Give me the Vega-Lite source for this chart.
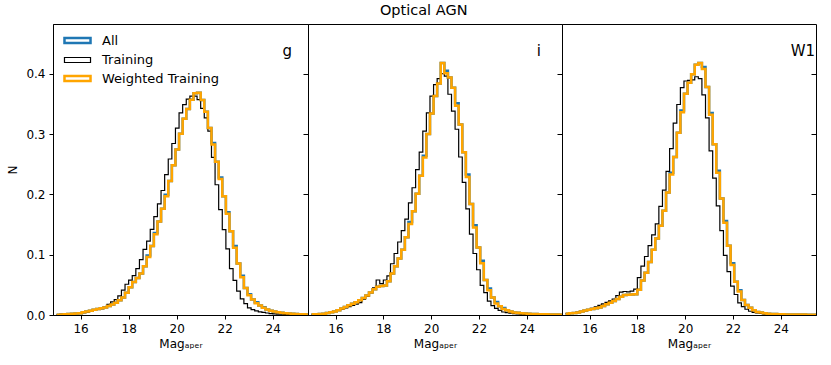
{
 "$schema": "https://vega.github.io/schema/vega-lite/v6.json",
 "padding": {"left": 6, "top": 3, "right": 10, "bottom": 4},
 "bounds": "flush",
 "title": {"text": "Optical AGN", "fontSize": 14.5, "font": "DejaVu Sans", "fontWeight": "normal", "anchor": "middle", "offset": 5, "dx": 12, "color": "#000"},
 "spacing": 0,
 "datasets": {
  "lab": [
   {"p": "g", "x": 24.41, "y": 0.43, "label": "g"},
   {"p": "i", "x": 24.41, "y": 0.43, "label": "i"},
   {"p": "W1", "x": 24.41, "y": 0.43, "label": "W1"}
  ],
  "h": [
   {"p":"g","x":15.00,"a":0.0006,"t":0.0006,"w":0.0006},
   {"p":"g","x":15.15,"a":0.0009,"t":0.0009,"w":0.0009},
   {"p":"g","x":15.30,"a":0.0012,"t":0.0012,"w":0.0012},
   {"p":"g","x":15.45,"a":0.0016,"t":0.0016,"w":0.0016},
   {"p":"g","x":15.60,"a":0.0020,"t":0.0020,"w":0.0020},
   {"p":"g","x":15.75,"a":0.0025,"t":0.0025,"w":0.0025},
   {"p":"g","x":15.90,"a":0.0029,"t":0.0029,"w":0.0029},
   {"p":"g","x":16.05,"a":0.0044,"t":0.0040,"w":0.0044},
   {"p":"g","x":16.20,"a":0.0060,"t":0.0052,"w":0.0060},
   {"p":"g","x":16.35,"a":0.0072,"t":0.0064,"w":0.0072},
   {"p":"g","x":16.50,"a":0.0086,"t":0.0077,"w":0.0086},
   {"p":"g","x":16.65,"a":0.0098,"t":0.0092,"w":0.0098},
   {"p":"g","x":16.80,"a":0.0110,"t":0.0107,"w":0.0110},
   {"p":"g","x":16.95,"a":0.0124,"t":0.0128,"w":0.0124},
   {"p":"g","x":17.10,"a":0.0149,"t":0.0178,"w":0.0149},
   {"p":"g","x":17.25,"a":0.0174,"t":0.0218,"w":0.0174},
   {"p":"g","x":17.40,"a":0.0204,"t":0.0254,"w":0.0204},
   {"p":"g","x":17.55,"a":0.0244,"t":0.0316,"w":0.0244},
   {"p":"g","x":17.70,"a":0.0290,"t":0.0414,"w":0.0290},
   {"p":"g","x":17.85,"a":0.0370,"t":0.0510,"w":0.0370},
   {"p":"g","x":18.00,"a":0.0460,"t":0.0578,"w":0.0460},
   {"p":"g","x":18.15,"a":0.0548,"t":0.0653,"w":0.0548},
   {"p":"g","x":18.30,"a":0.0613,"t":0.0768,"w":0.0613},
   {"p":"g","x":18.45,"a":0.0690,"t":0.0918,"w":0.0690},
   {"p":"g","x":18.60,"a":0.0807,"t":0.1087,"w":0.0807},
   {"p":"g","x":18.75,"a":0.0985,"t":0.1224,"w":0.0960},
   {"p":"g","x":18.90,"a":0.1143,"t":0.1420,"w":0.1143},
   {"p":"g","x":19.05,"a":0.1360,"t":0.1631,"w":0.1337},
   {"p":"g","x":19.20,"a":0.1549,"t":0.1843,"w":0.1549},
   {"p":"g","x":19.35,"a":0.1760,"t":0.2064,"w":0.1760},
   {"p":"g","x":19.50,"a":0.1995,"t":0.2328,"w":0.1970},
   {"p":"g","x":19.65,"a":0.2220,"t":0.2587,"w":0.2220},
   {"p":"g","x":19.80,"a":0.2482,"t":0.2844,"w":0.2482},
   {"p":"g","x":19.95,"a":0.2743,"t":0.3099,"w":0.2743},
   {"p":"g","x":20.10,"a":0.3005,"t":0.3351,"w":0.3005},
   {"p":"g","x":20.25,"a":0.3255,"t":0.3488,"w":0.3255},
   {"p":"g","x":20.40,"a":0.3415,"t":0.3580,"w":0.3415},
   {"p":"g","x":20.55,"a":0.3570,"t":0.3630,"w":0.3570},
   {"p":"g","x":20.70,"a":0.3675,"t":0.3630,"w":0.3675},
   {"p":"g","x":20.85,"a":0.3685,"t":0.3570,"w":0.3685},
   {"p":"g","x":21.00,"a":0.3565,"t":0.3425,"w":0.3565},
   {"p":"g","x":21.15,"a":0.3370,"t":0.3270,"w":0.3370},
   {"p":"g","x":21.30,"a":0.3100,"t":0.3050,"w":0.3100},
   {"p":"g","x":21.45,"a":0.2850,"t":0.2614,"w":0.2825},
   {"p":"g","x":21.60,"a":0.2540,"t":0.2160,"w":0.2540},
   {"p":"g","x":21.75,"a":0.2280,"t":0.1748,"w":0.2253},
   {"p":"g","x":21.90,"a":0.1970,"t":0.1415,"w":0.1970},
   {"p":"g","x":22.05,"a":0.1705,"t":0.1095,"w":0.1680},
   {"p":"g","x":22.20,"a":0.1390,"t":0.0768,"w":0.1390},
   {"p":"g","x":22.35,"a":0.1145,"t":0.0575,"w":0.1117},
   {"p":"g","x":22.50,"a":0.0855,"t":0.0395,"w":0.0855},
   {"p":"g","x":22.65,"a":0.0650,"t":0.0269,"w":0.0627},
   {"p":"g","x":22.80,"a":0.0448,"t":0.0189,"w":0.0448},
   {"p":"g","x":22.95,"a":0.0345,"t":0.0117,"w":0.0326},
   {"p":"g","x":23.10,"a":0.0256,"t":0.0089,"w":0.0256},
   {"p":"g","x":23.25,"a":0.0210,"t":0.0067,"w":0.0194},
   {"p":"g","x":23.40,"a":0.0156,"t":0.0052,"w":0.0156},
   {"p":"g","x":23.55,"a":0.0130,"t":0.0043,"w":0.0119},
   {"p":"g","x":23.70,"a":0.0090,"t":0.0033,"w":0.0090},
   {"p":"g","x":23.85,"a":0.0070,"t":0.0023,"w":0.0070},
   {"p":"g","x":24.00,"a":0.0056,"t":0.0019,"w":0.0056},
   {"p":"g","x":24.15,"a":0.0047,"t":0.0016,"w":0.0047},
   {"p":"g","x":24.30,"a":0.0038,"t":0.0013,"w":0.0038},
   {"p":"g","x":24.45,"a":0.0029,"t":0.0010,"w":0.0029},
   {"p":"g","x":24.60,"a":0.0024,"t":0.0009,"w":0.0024},
   {"p":"g","x":24.75,"a":0.0020,"t":0.0008,"w":0.0020},
   {"p":"g","x":24.90,"a":0.0015,"t":0.0007,"w":0.0015},
   {"p":"g","x":25.05,"a":0.0013,"t":0.0006,"w":0.0013},
   {"p":"g","x":25.20,"a":0.0011,"t":0.0005,"w":0.0011},
   {"p":"g","x":25.35,"a":0.0009,"t":0.0004,"w":0.0009},
   {"p":"g","x":25.50,"a":0.0009,"t":0.0004,"w":0.0009},

   {"p":"i","x":15.00,"a":0.0012,"t":0.0012,"w":0.0012},
   {"p":"i","x":15.15,"a":0.0014,"t":0.0014,"w":0.0014},
   {"p":"i","x":15.30,"a":0.0018,"t":0.0018,"w":0.0018},
   {"p":"i","x":15.45,"a":0.0022,"t":0.0022,"w":0.0022},
   {"p":"i","x":15.60,"a":0.0034,"t":0.0034,"w":0.0034},
   {"p":"i","x":15.75,"a":0.0046,"t":0.0046,"w":0.0046},
   {"p":"i","x":15.90,"a":0.0058,"t":0.0058,"w":0.0058},
   {"p":"i","x":16.05,"a":0.0078,"t":0.0078,"w":0.0078},
   {"p":"i","x":16.20,"a":0.0106,"t":0.0098,"w":0.0106},
   {"p":"i","x":16.35,"a":0.0133,"t":0.0118,"w":0.0133},
   {"p":"i","x":16.50,"a":0.0160,"t":0.0138,"w":0.0160},
   {"p":"i","x":16.65,"a":0.0186,"t":0.0160,"w":0.0186},
   {"p":"i","x":16.80,"a":0.0213,"t":0.0178,"w":0.0213},
   {"p":"i","x":16.95,"a":0.0245,"t":0.0205,"w":0.0245},
   {"p":"i","x":17.10,"a":0.0283,"t":0.0262,"w":0.0283},
   {"p":"i","x":17.25,"a":0.0325,"t":0.0312,"w":0.0325},
   {"p":"i","x":17.40,"a":0.0373,"t":0.0370,"w":0.0373},
   {"p":"i","x":17.55,"a":0.0425,"t":0.0450,"w":0.0425},
   {"p":"i","x":17.70,"a":0.0470,"t":0.0580,"w":0.0470},
   {"p":"i","x":17.85,"a":0.0480,"t":0.0520,"w":0.0480},
   {"p":"i","x":18.00,"a":0.0490,"t":0.0580,"w":0.0490},
   {"p":"i","x":18.15,"a":0.0560,"t":0.0650,"w":0.0560},
   {"p":"i","x":18.30,"a":0.0690,"t":0.0850,"w":0.0690},
   {"p":"i","x":18.45,"a":0.0810,"t":0.1020,"w":0.0810},
   {"p":"i","x":18.60,"a":0.0935,"t":0.1210,"w":0.0935},
   {"p":"i","x":18.75,"a":0.1080,"t":0.1400,"w":0.1080},
   {"p":"i","x":18.90,"a":0.1290,"t":0.1590,"w":0.1290},
   {"p":"i","x":19.05,"a":0.1540,"t":0.1860,"w":0.1510},
   {"p":"i","x":19.20,"a":0.1720,"t":0.2110,"w":0.1720},
   {"p":"i","x":19.35,"a":0.2010,"t":0.2410,"w":0.2010},
   {"p":"i","x":19.50,"a":0.2310,"t":0.2700,"w":0.2310},
   {"p":"i","x":19.65,"a":0.2640,"t":0.3050,"w":0.2610},
   {"p":"i","x":19.80,"a":0.3000,"t":0.3350,"w":0.3000},
   {"p":"i","x":19.95,"a":0.3340,"t":0.3630,"w":0.3340},
   {"p":"i","x":20.10,"a":0.3630,"t":0.3820,"w":0.3630},
   {"p":"i","x":20.25,"a":0.3840,"t":0.3920,"w":0.3840},
   {"p":"i","x":20.40,"a":0.4180,"t":0.4000,"w":0.4180},
   {"p":"i","x":20.55,"a":0.4050,"t":0.3960,"w":0.4010},
   {"p":"i","x":20.70,"a":0.3940,"t":0.3660,"w":0.3940},
   {"p":"i","x":20.85,"a":0.3770,"t":0.3380,"w":0.3770},
   {"p":"i","x":21.00,"a":0.3510,"t":0.3080,"w":0.3470},
   {"p":"i","x":21.15,"a":0.3160,"t":0.2620,"w":0.3160},
   {"p":"i","x":21.30,"a":0.2700,"t":0.2200,"w":0.2700},
   {"p":"i","x":21.45,"a":0.2330,"t":0.1760,"w":0.2290},
   {"p":"i","x":21.60,"a":0.1840,"t":0.1340,"w":0.1840},
   {"p":"i","x":21.75,"a":0.1490,"t":0.1020,"w":0.1450},
   {"p":"i","x":21.90,"a":0.1120,"t":0.0750,"w":0.1120},
   {"p":"i","x":22.05,"a":0.0900,"t":0.0490,"w":0.0860},
   {"p":"i","x":22.20,"a":0.0580,"t":0.0370,"w":0.0580},
   {"p":"i","x":22.35,"a":0.0440,"t":0.0230,"w":0.0410},
   {"p":"i","x":22.50,"a":0.0290,"t":0.0155,"w":0.0290},
   {"p":"i","x":22.65,"a":0.0215,"t":0.0110,"w":0.0190},
   {"p":"i","x":22.80,"a":0.0145,"t":0.0078,"w":0.0145},
   {"p":"i","x":22.95,"a":0.0115,"t":0.0050,"w":0.0098},
   {"p":"i","x":23.10,"a":0.0080,"t":0.0040,"w":0.0080},
   {"p":"i","x":23.25,"a":0.0060,"t":0.0031,"w":0.0060},
   {"p":"i","x":23.40,"a":0.0042,"t":0.0022,"w":0.0042},
   {"p":"i","x":23.55,"a":0.0036,"t":0.0018,"w":0.0036},
   {"p":"i","x":23.70,"a":0.0030,"t":0.0015,"w":0.0030},
   {"p":"i","x":23.85,"a":0.0023,"t":0.0012,"w":0.0023},
   {"p":"i","x":24.00,"a":0.0019,"t":0.0010,"w":0.0019},
   {"p":"i","x":24.15,"a":0.0017,"t":0.0009,"w":0.0017},
   {"p":"i","x":24.30,"a":0.0015,"t":0.0008,"w":0.0015},
   {"p":"i","x":24.45,"a":0.0014,"t":0.0007,"w":0.0014},
   {"p":"i","x":24.60,"a":0.0012,"t":0.0006,"w":0.0012},
   {"p":"i","x":24.75,"a":0.0011,"t":0.0005,"w":0.0011},
   {"p":"i","x":24.90,"a":0.0010,"t":0.0005,"w":0.0010},
   {"p":"i","x":25.05,"a":0.0008,"t":0.0004,"w":0.0008},
   {"p":"i","x":25.20,"a":0.0007,"t":0.0004,"w":0.0007},
   {"p":"i","x":25.35,"a":0.0006,"t":0.0003,"w":0.0006},
   {"p":"i","x":25.50,"a":0.0006,"t":0.0003,"w":0.0006},

   {"p":"W1","x":15.00,"a":0.0022,"t":0.0022,"w":0.0022},
   {"p":"W1","x":15.15,"a":0.0028,"t":0.0028,"w":0.0028},
   {"p":"W1","x":15.30,"a":0.0035,"t":0.0035,"w":0.0035},
   {"p":"W1","x":15.45,"a":0.0042,"t":0.0042,"w":0.0042},
   {"p":"W1","x":15.60,"a":0.0058,"t":0.0058,"w":0.0058},
   {"p":"W1","x":15.75,"a":0.0073,"t":0.0073,"w":0.0073},
   {"p":"W1","x":15.90,"a":0.0086,"t":0.0090,"w":0.0086},
   {"p":"W1","x":16.05,"a":0.0099,"t":0.0110,"w":0.0099},
   {"p":"W1","x":16.20,"a":0.0110,"t":0.0135,"w":0.0110},
   {"p":"W1","x":16.35,"a":0.0123,"t":0.0160,"w":0.0123},
   {"p":"W1","x":16.50,"a":0.0151,"t":0.0185,"w":0.0151},
   {"p":"W1","x":16.65,"a":0.0177,"t":0.0210,"w":0.0177},
   {"p":"W1","x":16.80,"a":0.0202,"t":0.0235,"w":0.0202},
   {"p":"W1","x":16.95,"a":0.0232,"t":0.0265,"w":0.0232},
   {"p":"W1","x":17.10,"a":0.0265,"t":0.0320,"w":0.0265},
   {"p":"W1","x":17.25,"a":0.0302,"t":0.0380,"w":0.0302},
   {"p":"W1","x":17.40,"a":0.0330,"t":0.0390,"w":0.0330},
   {"p":"W1","x":17.55,"a":0.0335,"t":0.0385,"w":0.0335},
   {"p":"W1","x":17.70,"a":0.0338,"t":0.0395,"w":0.0338},
   {"p":"W1","x":17.85,"a":0.0342,"t":0.0430,"w":0.0342},
   {"p":"W1","x":18.00,"a":0.0420,"t":0.0620,"w":0.0420},
   {"p":"W1","x":18.15,"a":0.0570,"t":0.0810,"w":0.0570},
   {"p":"W1","x":18.30,"a":0.0700,"t":0.0970,"w":0.0700},
   {"p":"W1","x":18.45,"a":0.0880,"t":0.1150,"w":0.0880},
   {"p":"W1","x":18.60,"a":0.1080,"t":0.1330,"w":0.1080},
   {"p":"W1","x":18.75,"a":0.1270,"t":0.1510,"w":0.1270},
   {"p":"W1","x":18.90,"a":0.1480,"t":0.1800,"w":0.1480},
   {"p":"W1","x":19.05,"a":0.1730,"t":0.2070,"w":0.1730},
   {"p":"W1","x":19.20,"a":0.2030,"t":0.2380,"w":0.2030},
   {"p":"W1","x":19.35,"a":0.2360,"t":0.2760,"w":0.2330},
   {"p":"W1","x":19.50,"a":0.2620,"t":0.3180,"w":0.2620},
   {"p":"W1","x":19.65,"a":0.3020,"t":0.3490,"w":0.3020},
   {"p":"W1","x":19.80,"a":0.3390,"t":0.3770,"w":0.3360},
   {"p":"W1","x":19.95,"a":0.3670,"t":0.3880,"w":0.3670},
   {"p":"W1","x":20.10,"a":0.3850,"t":0.3890,"w":0.3850},
   {"p":"W1","x":20.25,"a":0.3990,"t":0.3900,"w":0.3990},
   {"p":"W1","x":20.40,"a":0.4150,"t":0.3950,"w":0.4150},
   {"p":"W1","x":20.55,"a":0.4180,"t":0.3920,"w":0.4180},
   {"p":"W1","x":20.70,"a":0.4110,"t":0.3650,"w":0.4080},
   {"p":"W1","x":20.85,"a":0.3780,"t":0.3270,"w":0.3780},
   {"p":"W1","x":21.00,"a":0.3350,"t":0.2720,"w":0.3320},
   {"p":"W1","x":21.15,"a":0.2830,"t":0.2270,"w":0.2830},
   {"p":"W1","x":21.30,"a":0.2390,"t":0.1810,"w":0.2360},
   {"p":"W1","x":21.45,"a":0.1930,"t":0.1400,"w":0.1930},
   {"p":"W1","x":21.60,"a":0.1560,"t":0.0990,"w":0.1530},
   {"p":"W1","x":21.75,"a":0.1150,"t":0.0720,"w":0.1150},
   {"p":"W1","x":21.90,"a":0.0860,"t":0.0480,"w":0.0830},
   {"p":"W1","x":22.05,"a":0.0550,"t":0.0340,"w":0.0550},
   {"p":"W1","x":22.20,"a":0.0410,"t":0.0200,"w":0.0390},
   {"p":"W1","x":22.35,"a":0.0250,"t":0.0140,"w":0.0250},
   {"p":"W1","x":22.50,"a":0.0165,"t":0.0095,"w":0.0165},
   {"p":"W1","x":22.65,"a":0.0120,"t":0.0062,"w":0.0120},
   {"p":"W1","x":22.80,"a":0.0080,"t":0.0045,"w":0.0080},
   {"p":"W1","x":22.95,"a":0.0050,"t":0.0033,"w":0.0050},
   {"p":"W1","x":23.10,"a":0.0040,"t":0.0025,"w":0.0040},
   {"p":"W1","x":23.25,"a":0.0030,"t":0.0019,"w":0.0030},
   {"p":"W1","x":23.40,"a":0.0022,"t":0.0015,"w":0.0022},
   {"p":"W1","x":23.55,"a":0.0018,"t":0.0012,"w":0.0018},
   {"p":"W1","x":23.70,"a":0.0015,"t":0.0010,"w":0.0015},
   {"p":"W1","x":23.85,"a":0.0012,"t":0.0009,"w":0.0012},
   {"p":"W1","x":24.00,"a":0.0011,"t":0.0008,"w":0.0011},
   {"p":"W1","x":24.15,"a":0.0010,"t":0.0007,"w":0.0010},
   {"p":"W1","x":24.30,"a":0.0009,"t":0.0006,"w":0.0009},
   {"p":"W1","x":24.45,"a":0.0008,"t":0.0006,"w":0.0008},
   {"p":"W1","x":24.60,"a":0.0008,"t":0.0005,"w":0.0008},
   {"p":"W1","x":24.75,"a":0.0007,"t":0.0005,"w":0.0007},
   {"p":"W1","x":24.90,"a":0.0007,"t":0.0004,"w":0.0007},
   {"p":"W1","x":25.05,"a":0.0006,"t":0.0004,"w":0.0006},
   {"p":"W1","x":25.20,"a":0.0006,"t":0.0003,"w":0.0006},
   {"p":"W1","x":25.35,"a":0.0005,"t":0.0003,"w":0.0005},
   {"p":"W1","x":25.50,"a":0.0005,"t":0.0003,"w":0.0005}
  ]
 },
 "hconcat": [
  {
   "width": 255, "height": 291,
   "layer": [
    {
     "data": {"name": "h"},
     "transform": [{"filter": "datum.p == 'g'"}, {"fold": ["a", "t", "w"], "as": ["s", "v"]}],
     "mark": {"type": "line", "interpolate": "step-after", "clip": true},
     "encoding": {
      "x": {"field": "x", "type": "quantitative", "scale": {"domain": [14.85, 25.47], "nice": false, "zero": false}, "axis": {"values": [16, 18, 20, 22, 24], "format": "d", "title": "Magₐₚₑᵣ"}},
      "y": {"field": "v", "type": "quantitative", "scale": {"domain": [0, 0.4825], "nice": false}, "axis": {"values": [0, 0.1, 0.2, 0.3, 0.4], "format": ".1f", "title": "N", "titlePadding": 6}},
      "color": {"field": "s", "type": "nominal", "scale": {"domain": ["a", "t", "w"], "range": ["#1f77b4", "#000000", "#ffa500"]},
       "legend": {"orient": "none", "legendX": 16, "legendY": 8, "padding": 0, "title": null, "labelExpr": "datum.value == 'a' ? 'All' : datum.value == 't' ? 'Training' : 'Weighted Training'", "symbolType": "M-1.86,-0.36H1.86V0.36H-1.86Z", "symbolSize": 196, "symbolFillColor": "transparent", "labelFontSize": 13, "labelOffset": 16, "rowPadding": 3}},
      "strokeWidth": {"field": "s", "type": "nominal", "scale": {"type": "ordinal", "domain": ["a", "t", "w"], "range": [2.5, 1.2, 2.5]},
       "legend": {"orient": "none", "legendX": 16, "legendY": 8, "padding": 0, "title": null, "labelExpr": "datum.value == 'a' ? 'All' : datum.value == 't' ? 'Training' : 'Weighted Training'", "symbolType": "M-1.86,-0.36H1.86V0.36H-1.86Z", "symbolSize": 196, "symbolFillColor": "transparent", "labelFontSize": 13, "labelOffset": 16, "rowPadding": 3}}
     }
    },
    {
     "data": {"name": "lab"},
     "transform": [{"filter": "datum.p == 'g'"}],
     "mark": {"type": "text", "align": "left", "baseline": "alphabetic", "fontSize": 15, "color": "#000"},
     "encoding": {
      "x": {"field": "x", "type": "quantitative"},
      "y": {"field": "y", "type": "quantitative", "axis": {"orient": "right", "values": [0, 0.1, 0.2, 0.3, 0.4], "labels": false, "title": null, "domain": false, "tickSize": -5}},
      "text": {"field": "label"}
     }
    }
   ],
   "resolve": {"axis": {"y": "independent"}}
  },
  {
   "width": 254, "height": 291,
   "layer": [
    {
     "data": {"name": "h"},
     "transform": [{"filter": "datum.p == 'i'"}, {"fold": ["a", "t", "w"], "as": ["s", "v"]}],
     "mark": {"type": "line", "interpolate": "step-after", "clip": true},
     "encoding": {
      "x": {"field": "x", "type": "quantitative", "scale": {"domain": [14.85, 25.47], "nice": false, "zero": false}, "axis": {"values": [16, 18, 20, 22, 24], "format": "d", "title": "Magₐₚₑᵣ"}},
      "y": {"field": "v", "type": "quantitative", "scale": {"domain": [0, 0.4825], "nice": false}, "axis": null},
      "color": {"field": "s", "type": "nominal", "scale": {"domain": ["a", "t", "w"], "range": ["#1f77b4", "#000000", "#ffa500"]}, "legend": null},
      "strokeWidth": {"field": "s", "type": "nominal", "scale": {"type": "ordinal", "domain": ["a", "t", "w"], "range": [2.5, 1.2, 2.5]}, "legend": null}
     }
    },
    {
     "data": {"name": "lab"},
     "transform": [{"filter": "datum.p == 'i'"}],
     "mark": {"type": "text", "align": "left", "baseline": "alphabetic", "fontSize": 15, "color": "#000"},
     "encoding": {
      "x": {"field": "x", "type": "quantitative"},
      "y": {"field": "y", "type": "quantitative", "axis": {"orient": "right", "values": [0, 0.1, 0.2, 0.3, 0.4], "labels": false, "title": null, "domain": false, "tickSize": -5}},
      "text": {"field": "label"}
     }
    }
   ],
   "resolve": {"axis": {"y": "independent"}}
  },
  {
   "width": 254, "height": 291,
   "layer": [
    {
     "data": {"name": "h"},
     "transform": [{"filter": "datum.p == 'W1'"}, {"fold": ["a", "t", "w"], "as": ["s", "v"]}],
     "mark": {"type": "line", "interpolate": "step-after", "clip": true},
     "encoding": {
      "x": {"field": "x", "type": "quantitative", "scale": {"domain": [14.85, 25.47], "nice": false, "zero": false}, "axis": {"values": [16, 18, 20, 22, 24], "format": "d", "title": "Magₐₚₑᵣ"}},
      "y": {"field": "v", "type": "quantitative", "scale": {"domain": [0, 0.4825], "nice": false}, "axis": null},
      "color": {"field": "s", "type": "nominal", "scale": {"domain": ["a", "t", "w"], "range": ["#1f77b4", "#000000", "#ffa500"]}, "legend": null},
      "strokeWidth": {"field": "s", "type": "nominal", "scale": {"type": "ordinal", "domain": ["a", "t", "w"], "range": [2.5, 1.2, 2.5]}, "legend": null}
     }
    },
    {
     "data": {"name": "lab"},
     "transform": [{"filter": "datum.p == 'W1'"}],
     "mark": {"type": "text", "align": "left", "baseline": "alphabetic", "fontSize": 15, "color": "#000"},
     "encoding": {
      "x": {"field": "x", "type": "quantitative"},
      "y": {"field": "y", "type": "quantitative", "axis": {"orient": "right", "values": [0, 0.1, 0.2, 0.3, 0.4], "labels": false, "title": null, "domain": false, "tickSize": -5}},
      "text": {"field": "label"}
     }
    }
   ],
   "resolve": {"axis": {"y": "independent"}}
  }
 ],
 "resolve": {"scale": {"color": "independent", "strokeWidth": "independent"}},
 "config": {
  "font": "DejaVu Sans",
  "view": {"stroke": "#000000", "strokeWidth": 1},
  "axis": {"grid": false, "domainColor": "#000", "tickColor": "#000", "labelColor": "#000", "titleColor": "#000", "labelFontSize": 12, "titleFontSize": 12, "titleFontWeight": "normal", "tickSize": 4, "labelPadding": 4, "domainWidth": 1, "tickWidth": 1, "labelFont": "DejaVu Sans", "titleFont": "DejaVu Sans"},
  "legend": {"labelFont": "DejaVu Sans", "labelColor": "#000"}
 }
}
